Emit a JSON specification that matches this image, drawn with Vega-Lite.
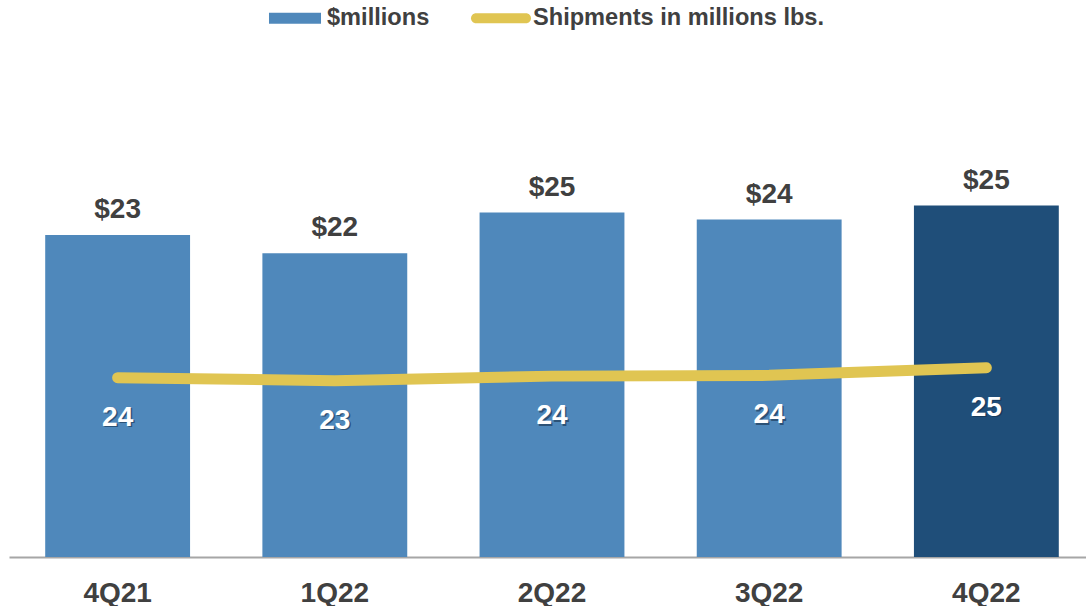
{
  "$schema": "https://vega.github.io/schema/vega-lite/v6.json",
  "width": 1077,
  "height": 512,
  "autosize": {"type": "none"},
  "padding": {"left": 9, "top": 45, "right": 0, "bottom": 49},
  "background": "white",
  "config": {
    "view": {"stroke": null},
    "font": "Liberation Sans",
    "axis": {"grid": false}
  },
  "data": {
    "values": [
      {"quarter": "4Q21", "sales": 23.0, "shipments": 23.6},
      {"quarter": "1Q22", "sales": 21.7, "shipments": 23.2},
      {"quarter": "2Q22", "sales": 24.6, "shipments": 23.8},
      {"quarter": "3Q22", "sales": 24.1, "shipments": 23.9},
      {"quarter": "4Q22", "sales": 25.1, "shipments": 24.9}
    ]
  },
  "encoding": {
    "x": {
      "field": "quarter",
      "type": "nominal",
      "sort": null,
      "scale": {"paddingInner": 0.333, "paddingOuter": 0.1667, "range": [0, 1086]},
      "axis": {
        "title": null,
        "labelAngle": 0,
        "ticks": false,
        "labelPadding": 22,
        "labelFontSize": 28,
        "labelFontWeight": "bold",
        "labelColor": "#404040",
        "labelFont": "Liberation Sans",
        "domainColor": "#A6A6A6",
        "domainWidth": 2
      }
    }
  },
  "layer": [
    {
      "mark": {"type": "bar"},
      "encoding": {
        "y": {"field": "sales", "type": "quantitative", "scale": {"domain": [0, 36.57], "nice": false}, "axis": null},
        "color": {
          "condition": {"test": "datum.quarter === '4Q22'", "value": "#1F4E79"},
          "datum": "$millions",
          "scale": {"domain": ["$millions", "Shipments in millions lbs."], "range": ["#4F88BB", "#E0C552"]},
          "legend": {
            "title": null,
            "orient": "none",
            "direction": "horizontal",
            "legendX": 256,
            "legendY": -57,
            "padding": 0,
            "symbolSize": 3600,
            "labelFontSize": 23.6,
            "labelFontWeight": "bold",
            "labelColor": "#404040",
            "labelFont": "Liberation Sans",
            "labelOffset": 2,
            "labelLimit": 0,
            "columnPadding": 41,
            "encode": {
              "symbols": {
                "update": {
                  "shape": {"signal": "datum.value === '$millions' ? 'M-0.867,-0.183H0.867V0.183H-0.867Z' : 'M-0.833,-0.167H0.833A0.167,0.167 0 0 1 0.833,0.167H-0.833A0.167,0.167 0 0 1 -0.833,-0.167Z'"},
                  "fill": {"scale": "color", "field": "value"},
                  "stroke": {"value": "transparent"},
                  "strokeWidth": {"value": 0},
                  "opacity": {"value": 1},
                  "fillOpacity": {"value": 1}
                }
              }
            }
          }
        }
      }
    },
    {
      "mark": {"type": "text", "baseline": "alphabetic", "dy": -17, "fontSize": 28, "fontWeight": "bold", "color": "#404040", "font": "Liberation Sans"},
      "encoding": {
        "y": {"field": "sales", "type": "quantitative", "scale": {"domain": [0, 36.57], "nice": false}, "axis": null},
        "text": {"field": "sales", "type": "quantitative", "format": "$.0f"}
      }
    },
    {
      "mark": {"type": "line", "strokeWidth": 11, "strokeCap": "round", "strokeJoin": "round"},
      "encoding": {
        "y": {"field": "shipments", "type": "quantitative", "scale": {"domain": [0, 67.37], "nice": false}, "axis": null},
        "color": {"datum": "Shipments in millions lbs."}
      }
    },
    {
      "mark": {"type": "text", "baseline": "alphabetic", "dy": 49.5, "dx": 1.5, "fontSize": 28, "fontWeight": "bold", "color": "#152F4A", "opacity": 0.6, "font": "Liberation Sans"},
      "encoding": {
        "y": {"field": "shipments", "type": "quantitative", "scale": {"domain": [0, 67.37], "nice": false}, "axis": null},
        "text": {"field": "shipments", "type": "quantitative", "format": ".0f"}
      }
    },
    {
      "mark": {"type": "text", "baseline": "alphabetic", "dy": 48, "fontSize": 28, "fontWeight": "bold", "color": "white", "font": "Liberation Sans"},
      "encoding": {
        "y": {"field": "shipments", "type": "quantitative", "scale": {"domain": [0, 67.37], "nice": false}, "axis": null},
        "text": {"field": "shipments", "type": "quantitative", "format": ".0f"}
      }
    }
  ],
  "resolve": {"scale": {"y": "independent"}}
}
